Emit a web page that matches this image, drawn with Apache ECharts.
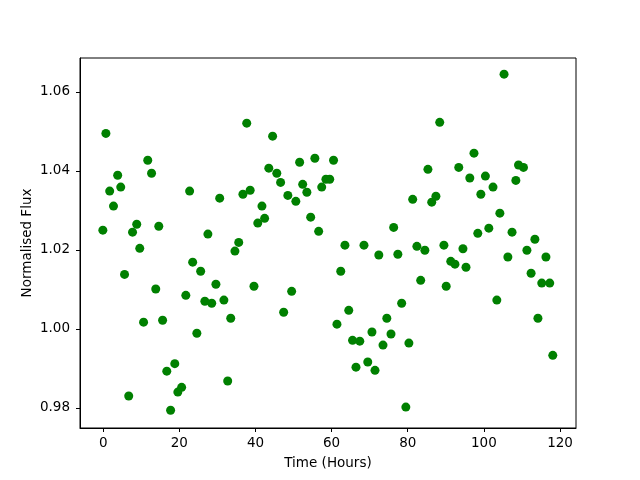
<!DOCTYPE html>
<html>
<head>
<meta charset="utf-8">
<script src="https://cdn.jsdelivr.net/npm/echarts@6/dist/echarts.min.js"></script>
<style>
  html, body { margin: 0; padding: 0; background: #fff; }
  #chart { width: 640px; height: 480px; }
</style>
</head>
<body>
<div id="chart"></div>
<script>
// time (hours)
var hours = [
  -0.1, 0.7, 1.7, 2.7, 3.8, 4.6, 5.6, 6.7, 7.7, 8.8,
  9.6, 10.6, 11.7, 12.7, 13.8, 14.6, 15.6, 16.7, 17.7, 18.8,
  19.6, 20.6, 21.7, 22.7, 23.5, 24.6, 25.6, 26.7, 27.5, 28.5,
  29.6, 30.6, 31.7, 32.7, 33.5, 34.6, 35.6, 36.7, 37.7, 38.6,
  39.6, 40.6, 41.7, 42.4, 43.5, 44.5, 45.6, 46.6, 47.4, 48.5,
  49.5, 50.6, 51.6, 52.4, 53.5, 54.5, 55.6, 56.6, 57.4, 58.5,
  59.5, 60.5, 61.4, 62.4, 63.5, 64.5, 65.5, 66.4, 67.4, 68.5,
  69.5, 70.6, 71.4, 72.4, 73.5, 74.5, 75.6, 76.3, 77.4, 78.4,
  79.5, 80.3, 81.3, 82.4, 83.4, 84.5, 85.3, 86.3, 87.4, 88.4,
  89.5, 90.1, 91.3, 92.4, 93.4, 94.5, 95.3, 96.3, 97.4, 98.4,
  99.2, 100.4, 101.3, 102.4, 103.4, 104.2, 105.3, 106.3, 107.4, 108.4,
  109.1, 110.4, 111.3, 112.4, 113.4, 114.2, 115.2, 116.3, 117.3, 118.1
];
// normalised flux
var flux = [
  1.0250, 1.0495, 1.0349, 1.0311, 1.0389, 1.0359, 1.0138, 0.9830, 1.0245, 1.0265,
  1.0204, 1.0017, 1.0427, 1.0394, 1.0101, 1.0260, 1.0022, 0.9893, 0.9794, 0.9912,
  0.9840, 0.9852, 1.0085, 1.0349, 1.0169, 0.9989, 1.0146, 1.0070, 1.0240, 1.0065,
  1.0113, 1.0331, 1.0073, 0.9868, 1.0027, 1.0197, 1.0219, 1.0341, 1.0521, 1.0351,
  1.0108, 1.0268, 1.0311, 1.0280, 1.0407, 1.0488, 1.0394, 1.0371, 1.0042, 1.0338,
  1.0095, 1.0323, 1.0422, 1.0366, 1.0346, 1.0283, 1.0432, 1.0247, 1.0359, 1.0379,
  1.0379, 1.0427, 1.0012, 1.0146, 1.0212, 1.0047, 0.9971, 0.9903, 0.9969, 1.0212,
  0.9916, 0.9992, 0.9895, 1.0187, 0.9959, 1.0027, 0.9987, 1.0257, 1.0189, 1.0065,
  0.9802, 0.9964, 1.0328, 1.0209, 1.0123, 1.0199, 1.0404, 1.0321, 1.0336, 1.0523,
  1.0212, 1.0108, 1.0171, 1.0164, 1.0409, 1.0203, 1.0156, 1.0382, 1.0445, 1.0242,
  1.0341, 1.0387, 1.0255, 1.0359, 1.0073, 1.0293, 1.0645, 1.0182, 1.0245, 1.0376,
  1.0415, 1.0409, 1.0199, 1.0141, 1.0227, 1.0027, 1.0116, 1.0182, 1.0116, 0.9933
];
var xTicks = [0, 20, 40, 60, 80, 100, 120];
var yTicks = [0.98, 1.00, 1.02, 1.04, 1.06];

var font = "'DejaVu Sans', sans-serif";

var points = [];
for (var i = 0; i < hours.length; i++) {
    points.push([hours[i], flux[i]]);
}

var chart = echarts.init(document.getElementById('chart'));
chart.setOption({
    animation: false,
    backgroundColor: '#fff',
    grid: {
        left: 80, right: 64, top: 58, bottom: 52,
        show: true, borderColor: '#000', borderWidth: 1
    },
    xAxis: {
        type: 'value',
        min: -6.1, max: 124.2,
        name: 'Time (Hours)',
        nameLocation: 'middle',
        nameGap: 28,
        nameMoveOverlap: false,
        nameTextStyle: { color: '#000', fontSize: 13.5, fontFamily: font },
        axisLine: { show: true, onZero: false, lineStyle: { color: '#000', width: 1 } },
        axisTick: { show: true, length: 4, customValues: xTicks, lineStyle: { color: '#000' } },
        axisLabel: {
            customValues: xTicks, margin: 8,
            color: '#000', fontSize: 13.5, fontFamily: font
        },
        splitLine: { show: false }
    },
    yAxis: {
        type: 'value',
        min: 0.9749, max: 1.0686,
        name: 'Normalised Flux',
        nameLocation: 'middle',
        nameGap: 46,
        nameMoveOverlap: false,
        nameTextStyle: { color: '#000', fontSize: 13.5, fontFamily: font },
        axisLine: { show: true, onZero: false, lineStyle: { color: '#000', width: 1 } },
        axisTick: { show: true, length: 4, customValues: yTicks, lineStyle: { color: '#000' } },
        axisLabel: {
            customValues: yTicks, margin: 10,
            color: '#000', fontSize: 13.5, fontFamily: font,
            formatter: function(v) { return v.toFixed(2); }
        },
        splitLine: { show: false }
    },
    series: [{
        type: 'scatter',
        data: points,
        symbol: 'circle',
        symbolSize: 9,
        itemStyle: { color: '#008000', opacity: 1 }
    }]
});
</script>
</body>
</html>
